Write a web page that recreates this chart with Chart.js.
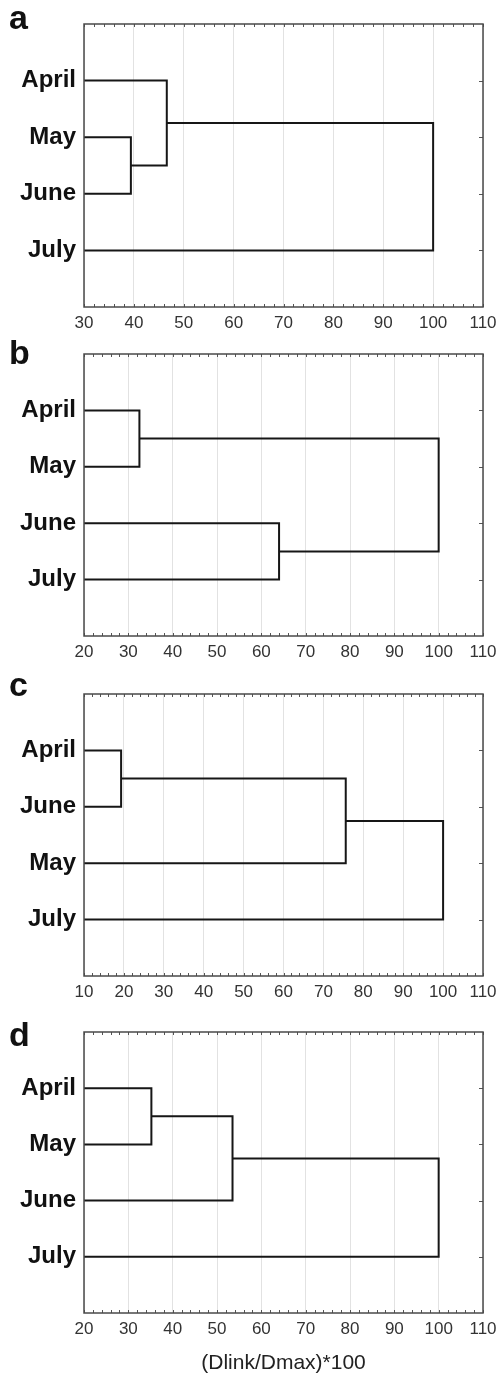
<!DOCTYPE html>
<html>
<head>
<meta charset="utf-8">
<script src="https://cdn.jsdelivr.net/npm/chart.js@4/dist/chart.umd.min.js"></script>
<style>
  body { margin: 0; background: #fff; }
  #wrap { position: relative; width: 498px; height: 1374px; overflow: hidden; }
  .panel { position: absolute; left: 0; }
  .letter { position: absolute; left: 9px; font: bold 34px "Liberation Sans", Arial, sans-serif; line-height: 1; color: #111; }
</style>
</head>
<body>
<div id="wrap"></div>
<script>
// leaves (top to bottom), merges as pairs of node ids (leaf i, or 4+k for merge k), merge heights
const leavesA = ["April", "May", "June", "July"];
const pairsA = [[1, 2], [0, 4], [5, 3]];
const heightsA = [39.4, 46.6, 100];
const ticksA = [30, 40, 50, 60, 70, 80, 90, 100, 110];

const leavesB = ["April", "May", "June", "July"];
const pairsB = [[0, 1], [2, 3], [4, 5]];
const heightsB = [32.5, 64, 100];
const ticksB = [20, 30, 40, 50, 60, 70, 80, 90, 100, 110];

const leavesC = ["April", "June", "May", "July"];
const pairsC = [[0, 1], [4, 2], [5, 3]];
const heightsC = [19.3, 75.6, 100];
const ticksC = [10, 20, 30, 40, 50, 60, 70, 80, 90, 100, 110];

const leavesD = ["April", "May", "June", "July"];
const pairsD = [[0, 1], [4, 2], [5, 3]];
const heightsD = [35.2, 53.5, 100];
const ticksD = [20, 30, 40, 50, 60, 70, 80, 90, 100, 110];

const xTitle = "(Dlink/Dmax)*100";

Chart.defaults.font.family = "'Liberation Sans', Arial, sans-serif";

const panels = [
  { letter: "a", top: 0, h: 337, axisH: 30, letterTop: 0, leaves: leavesA, pairs: pairsA, heights: heightsA, ticks: ticksA },
  { letter: "b", top: 330, h: 336, axisH: 30, letterTop: 335, leaves: leavesB, pairs: pairsB, heights: heightsB, ticks: ticksB },
  { letter: "c", top: 670, h: 336, axisH: 30, letterTop: 667, leaves: leavesC, pairs: pairsC, heights: heightsC, ticks: ticksC },
  { letter: "d", top: 1008, h: 369, axisH: 64, letterTop: 1017, leaves: leavesD, pairs: pairsD, heights: heightsD, ticks: ticksD, title: xTitle }
];

// one line dataset per merge: child -> height -> other child
function linkSets(leaves, pairs, heights, xMin) {
  const nodes = leaves.map((_, i) => ({ x: xMin, y: i }));
  const sets = [];
  pairs.forEach((p, k) => {
    const a = nodes[p[0]], b = nodes[p[1]], h = heights[k];
    sets.push({
      data: [{ x: a.x, y: a.y }, { x: h, y: a.y }, { x: h, y: b.y }, { x: b.x, y: b.y }],
      showLine: true,
      borderColor: "#161616",
      borderWidth: 2,
      pointRadius: 0,
      tension: 0
    });
    nodes.push({ x: h, y: (a.y + b.y) / 2 });
  });
  return sets;
}

// frame plus small inner ticks
const framePlugin = {
  id: "frame",
  afterDraw(chart) {
    const { ctx, chartArea: ca, scales } = chart;
    const xs = scales.x, ys = scales.y;
    ctx.save();
    ctx.strokeStyle = "#555";
    ctx.lineWidth = 1;
    ctx.beginPath();
    for (let v = xs.min; v <= xs.max; v += 2) {
      const px = Math.round(xs.getPixelForValue(v)) + 0.5;
      ctx.moveTo(px, ca.top); ctx.lineTo(px, ca.top + 3);
      ctx.moveTo(px, ca.bottom); ctx.lineTo(px, ca.bottom - 3);
    }
    ys.ticks.forEach(t => {
      const py = Math.round(ys.getPixelForValue(t.value)) + 0.5;
      ctx.moveTo(ca.right, py); ctx.lineTo(ca.right - 4, py);
    });
    ctx.stroke();
    ctx.lineWidth = 1.5;
    ctx.strokeStyle = "#4a4a4a";
    ctx.strokeRect(ca.left, ca.top, ca.right - ca.left, ca.bottom - ca.top);
    ctx.restore();
  }
};

const wrap = document.getElementById("wrap");

panels.forEach(p => {
  const box = document.createElement("div");
  box.className = "panel";
  box.style.top = p.top + "px";
  const cv = document.createElement("canvas");
  cv.width = 498; cv.height = p.h;
  box.appendChild(cv);
  wrap.appendChild(box);

  const lt = document.createElement("div");
  lt.className = "letter";
  lt.style.top = p.letterTop + "px";
  lt.textContent = p.letter;
  wrap.appendChild(lt);

  const xMin = p.ticks[0], xMax = p.ticks[p.ticks.length - 1];

  new Chart(cv, {
    type: "scatter",
    data: { datasets: linkSets(p.leaves, p.pairs, p.heights, xMin) },
    options: {
      responsive: false,
      animation: false,
      layout: { padding: { top: 24, right: 15, left: 0, bottom: 0 } },
      plugins: { legend: { display: false }, tooltip: { enabled: false } },
      scales: {
        x: {
          type: "linear",
          min: xMin, max: xMax,
          afterBuildTicks: s => { s.ticks = p.ticks.map(v => ({ value: v })); },
          afterFit: s => { s.height = p.axisH; s.paddingRight = 0; s.paddingLeft = 0; },
          grid: { color: "#e2e2e2", lineWidth: 1, drawTicks: false },
          border: { display: false },
          ticks: { color: "#333", font: { size: 17 }, padding: 6, maxRotation: 0, autoSkip: false },
          title: p.title ? { display: true, text: p.title, color: "#222", font: { size: 21 }, padding: { top: 0, bottom: 1 } } : { display: false }
        },
        y: {
          type: "linear",
          min: -1, max: 4, reverse: true,
          afterBuildTicks: s => { s.ticks = p.leaves.map((_, i) => ({ value: i })); },
          afterFit: s => { s.width = 84; },
          grid: { display: false },
          border: { display: false },
          ticks: { color: "#111", font: { size: 24, weight: "bold" }, padding: 0, callback: v => p.leaves[v] }
        }
      }
    },
    plugins: [framePlugin]
  });
});
</script>
</body>
</html>
